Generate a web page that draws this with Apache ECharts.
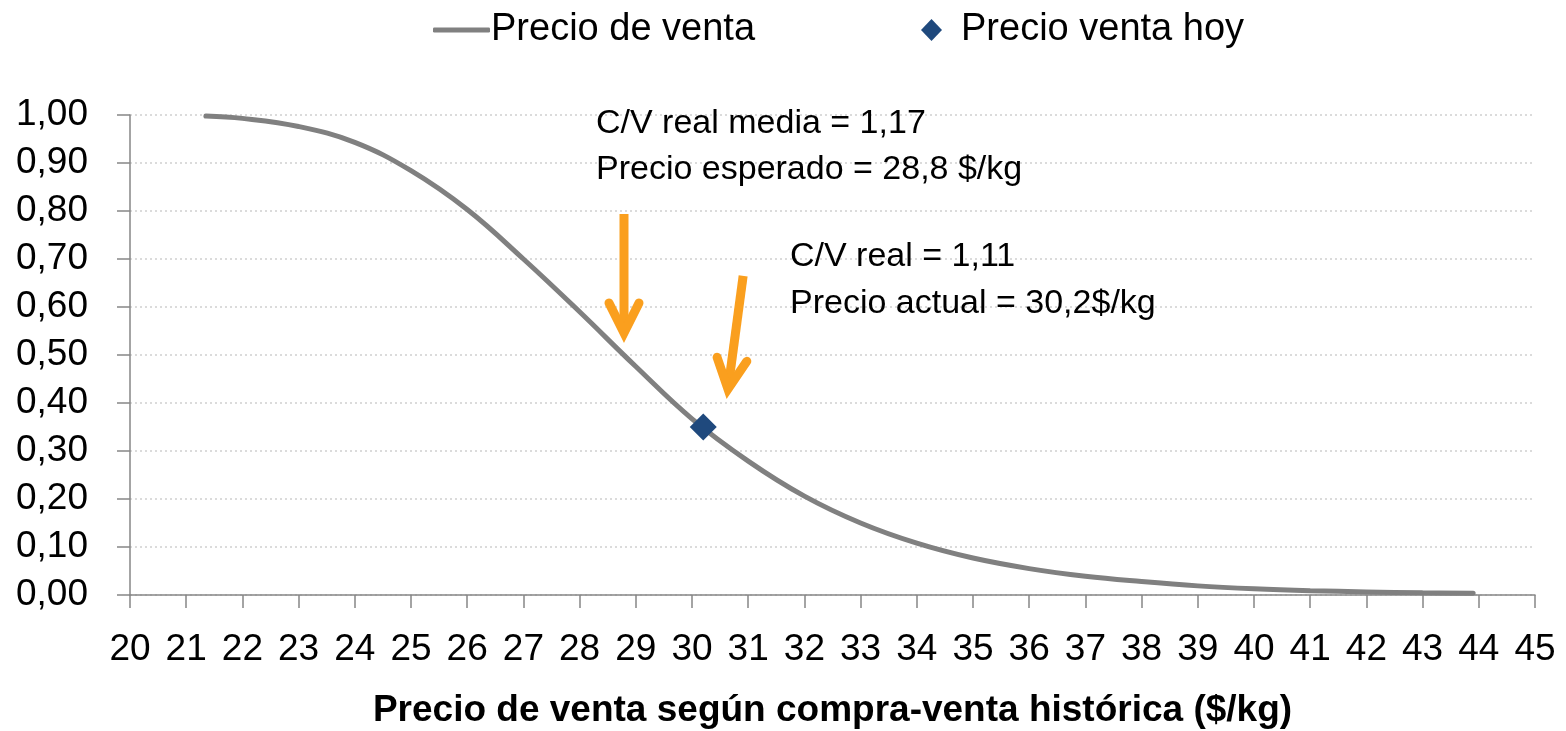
<!DOCTYPE html>
<html>
<head>
    <meta charset="utf-8">
    <title>Precio de venta</title>
    <script src="https://cdn.jsdelivr.net/npm/echarts@6/dist/echarts.min.js"></script>
</head>
<body style="margin:0;background:#fff;">
    <div id="main" style="width:1566px;height:731px;"></div>
    <script type="text/javascript">
        // datos
        var precios = [21.35, 22, 23, 24, 25, 26, 27, 28, 29, 30, 31, 32, 33, 34, 35, 36, 37, 38, 39, 40, 41, 42, 43, 43.9];
        var probabilidad = [0.998, 0.993, 0.976, 0.943, 0.884, 0.803, 0.700, 0.590, 0.476, 0.367, 0.279, 0.206, 0.150, 0.108, 0.077, 0.055, 0.039, 0.028, 0.019, 0.013, 0.009, 0.0065, 0.0045, 0.0035];
        var precioHoy = [30.2];
        var valorHoy = [0.35];
        var notaMedia = ['C/V real media = 1,17', 'Precio esperado = 28,8 $/kg'];
        var notaActual = ['C/V real = 1,11', 'Precio actual = 30,2$/kg'];
        // flechas: [desde, hasta] en coordenadas del grafico
        var flechas = [
            [[28.79, 0.794], [28.79, 0.546]],
            [[30.91, 0.665], [30.64, 0.429]]
        ];

        var fuente = '"Liberation Sans", Arial, sans-serif';
        var gris = '#868686';
        var myChart = echarts.init(document.getElementById('main'));

        var curva = [];
        for (var i = 0; i < precios.length; i++) {
            curva.push([precios[i], probabilidad[i]]);
        }
        var hoy = [];
        for (var j = 0; j < precioHoy.length; j++) {
            hoy.push([precioHoy[j], valorHoy[j]]);
        }

        var option = {
            animation: false,
            textStyle: { fontFamily: fuente },
            grid: { left: 130, right: 31, top: 115, bottom: 136, outerBoundsMode: 'none', containLabel: false },
            legend: [
                {
                    left: 428, top: 6,
                    itemWidth: 57, itemHeight: 5, itemGap: 0,
                    icon: 'roundRect',
                    data: ['Precio de venta'],
                    textStyle: { fontSize: 38, color: '#000', fontFamily: fuente, padding: [0, 0, 0, -4] }
                },
                {
                    left: 916, top: 6,
                    itemWidth: 21, itemHeight: 22, itemGap: 0,
                    icon: 'diamond',
                    data: ['Precio venta hoy'],
                    textStyle: { fontSize: 38, color: '#000', fontFamily: fuente, padding: [0, 0, 0, 14] }
                }
            ],
            xAxis: {
                type: 'value',
                min: 20, max: 45, interval: 1,
                name: 'Precio de venta según compra-venta histórica ($/kg)',
                nameLocation: 'middle',
                nameGap: 97,
                nameTextStyle: { fontSize: 37, fontWeight: 'bold', color: '#000', fontFamily: fuente },
                axisLine: { lineStyle: { color: gris, width: 1.5 } },
                axisTick: { show: true, inside: false, length: 13, lineStyle: { color: gris, width: 1.5 } },
                axisLabel: { fontSize: 37, color: '#000', margin: 36, fontFamily: fuente },
                splitLine: { show: false }
            },
            yAxis: {
                type: 'value',
                min: 0, max: 1, interval: 0.1,
                axisLine: { show: true, lineStyle: { color: gris, width: 1.5 } },
                axisTick: { show: true, inside: false, length: 13, lineStyle: { color: gris, width: 1.5 } },
                axisLabel: {
                    fontSize: 37, color: '#000', margin: 42, fontFamily: fuente,
                    formatter: function (v) { return v.toFixed(2).replace('.', ','); }
                },
                splitLine: { show: true, lineStyle: { color: '#d0d0d0', type: [2, 3], width: 1.5 } }
            },
            series: [
                {
                    name: 'Precio de venta',
                    type: 'line',
                    data: curva,
                    smooth: 0.4,
                    symbol: 'none',
                    lineStyle: { color: '#808080', width: 5, cap: 'round' },
                    itemStyle: { color: '#808080' }
                },
                {
                    name: 'Precio venta hoy',
                    type: 'scatter',
                    data: hoy,
                    symbol: 'diamond',
                    symbolSize: 27,
                    itemStyle: { color: '#1f497d', opacity: 1 },
                    z: 5
                }
            ]
        };
        myChart.setOption(option);

        // notas y flechas
        var naranja = '#fa9f1e';
        var graficos = [
            {
                type: 'text', left: 596, top: 101,
                style: { text: notaMedia.join('\n'), font: '34px ' + fuente, fill: '#000', lineHeight: 46 }
            },
            {
                type: 'text', left: 790, top: 233,
                style: { text: notaActual.join('\n'), font: '34px ' + fuente, fill: '#000', lineHeight: 47 }
            }
        ];
        flechas.forEach(function (f) {
            var a = myChart.convertToPixel({ gridIndex: 0 }, f[0]);
            var b = myChart.convertToPixel({ gridIndex: 0 }, f[1]);
            var dx = b[0] - a[0], dy = b[1] - a[1];
            var len = Math.sqrt(dx * dx + dy * dy);
            var ux = dx / len, uy = dy / len;
            var back = 30, half = 15;
            var w1 = [b[0] - ux * back - uy * half, b[1] - uy * back + ux * half];
            var w2 = [b[0] - ux * back + uy * half, b[1] - uy * back - ux * half];
            graficos.push({
                type: 'polyline',
                shape: { points: [a, [b[0] - ux * 3, b[1] - uy * 3]] },
                style: { stroke: naranja, lineWidth: 9, fill: null }
            });
            graficos.push({
                type: 'polyline',
                shape: { points: [w1, b, w2] },
                style: { stroke: naranja, lineWidth: 9, fill: null, lineCap: 'round', lineJoin: 'miter' }
            });
        });
        myChart.setOption({ graphic: graficos });
    </script>
</body>
</html>
